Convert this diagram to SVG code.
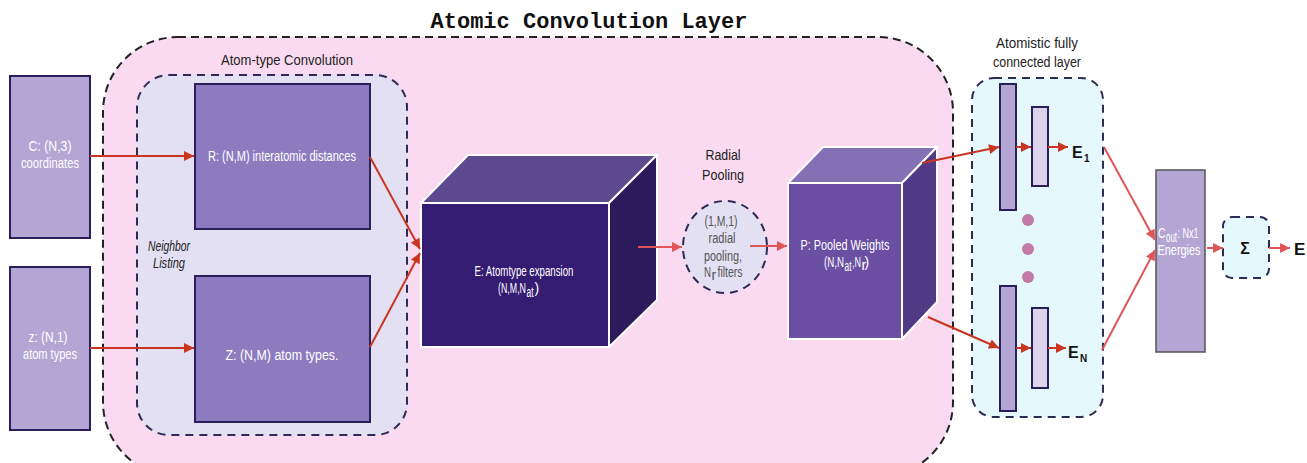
<svg xmlns="http://www.w3.org/2000/svg" width="1307" height="463" viewBox="0 0 1307 463">
<style>
.lbl{font-family:"Liberation Sans",Arial,sans-serif;font-size:14px;fill:#ffffff;text-anchor:middle}
.st{text-anchor:start}
.dark{fill:#222222}
.gray{fill:#555555}
.ital{font-style:italic}
.bold{font-family:"Liberation Sans",Arial,sans-serif;font-weight:bold;fill:#111111}
.node{stroke:#2a1f5a;stroke-width:2}
.cube{stroke:#ffffff;stroke-width:2;stroke-linejoin:round}
.dash{fill:none;stroke:#2d2a55;stroke-width:2;stroke-dasharray:8 6}
.ar{fill:none;stroke:#c9351f;stroke-width:2}
.ar2{fill:none;stroke:#e0555a;stroke-width:2}
</style>
<defs>
<marker id="ah" viewBox="0 0 10 10" refX="10" refY="5" markerWidth="12" markerHeight="10" markerUnits="userSpaceOnUse" orient="auto"><path d="M0,0 L10,5 L0,10 z" fill="#c9351f"/></marker>
<marker id="ah2" viewBox="0 0 10 10" refX="10" refY="5" markerWidth="12" markerHeight="10" markerUnits="userSpaceOnUse" orient="auto"><path d="M0,0 L10,5 L0,10 z" fill="#e0555a"/></marker>
</defs>

<g id="atomic-convolution-layer">
<rect x="103" y="37" width="850" height="440" rx="75" fill="#fadaf0" stroke="#222222" stroke-width="2" stroke-dasharray="8 5"/>
<text x="589" y="28" font-family="Liberation Mono,Courier New,monospace" font-weight="bold" font-size="22" fill="#111111" text-anchor="middle">Atomic Convolution Layer</text>
</g>

<g id="atom-type-convolution">
<rect x="137" y="75" width="270" height="360" rx="32" class="dash" style="fill:#e4e0f3"/>
<text class="lbl dark" x="287" y="65" font-size="15" textLength="132" lengthAdjust="spacingAndGlyphs">Atom-type Convolution</text>
<text class="lbl dark ital" x="169" y="251" font-size="13" textLength="42" lengthAdjust="spacingAndGlyphs">Neighbor</text>
<text class="lbl dark ital" x="169" y="268" font-size="13" textLength="32" lengthAdjust="spacingAndGlyphs">Listing</text>
</g>

<g id="coords">
<rect class="node" x="10" y="76" width="80" height="162" fill="#b3a6d4"/>
<text class="lbl" x="50" y="151" textLength="43" lengthAdjust="spacingAndGlyphs">C: (N,3)</text>
<text class="lbl" x="50" y="168" textLength="58" lengthAdjust="spacingAndGlyphs">coordinates</text>
</g>

<g id="atomtypes-in">
<rect class="node" x="10" y="267" width="80" height="163" fill="#b3a6d4"/>
<text class="lbl" x="48" y="342" textLength="39" lengthAdjust="spacingAndGlyphs">z: (N,1)</text>
<text class="lbl" x="50" y="359" textLength="54" lengthAdjust="spacingAndGlyphs">atom types</text>
</g>

<g id="R">
<rect class="node" x="195" y="84" width="175" height="145" fill="#8c7bbf"/>
<text class="lbl" x="282" y="161" font-size="15" textLength="148" lengthAdjust="spacingAndGlyphs">R: (N,M) interatomic distances</text>
</g>

<g id="Z">
<rect class="node" x="195" y="276" width="175" height="146" fill="#8c7bbf"/>
<text class="lbl" x="282" y="360" font-size="18" textLength="113" lengthAdjust="spacingAndGlyphs">Z: (N,M) atom types.</text>
</g>

<g id="E">
<polygon class="cube" points="421,203 468,155 657,155 609,203" fill="#5e4a8f"/>
<polygon class="cube" points="609,203 657,155 657,300 609,347" fill="#2b1a5c"/>
<rect class="cube" x="421" y="203" width="188" height="144" fill="#341c72"/>
<text class="lbl" x="524" y="276" font-size="15" textLength="99" lengthAdjust="spacingAndGlyphs">E: Atomtype expansion</text>
<text class="lbl st" x="498" y="293" textLength="28" lengthAdjust="spacingAndGlyphs">(N,M,N</text>
<text class="lbl st" x="526.5" y="297" font-size="9" textLength="7" lengthAdjust="spacingAndGlyphs">at</text>
<text class="lbl st" x="534.5" y="293">)</text>
</g>

<g id="radial-pooling">
<text class="lbl dark" x="723" y="160" font-size="15" textLength="35" lengthAdjust="spacingAndGlyphs">Radial</text>
<text class="lbl dark" x="723" y="180" font-size="15" textLength="42" lengthAdjust="spacingAndGlyphs">Pooling</text>
<ellipse cx="725" cy="247" rx="42" ry="46" class="dash" style="fill:#e4e0f3"/>
<text class="lbl gray" x="721" y="226" font-size="13" textLength="33" lengthAdjust="spacingAndGlyphs">(1,M,1)</text>
<text class="lbl gray" x="722" y="243" font-size="13" textLength="27" lengthAdjust="spacingAndGlyphs">radial</text>
<text class="lbl gray" x="723" y="261" font-size="13" textLength="38" lengthAdjust="spacingAndGlyphs">pooling,</text>
<text class="lbl gray st" x="704" y="277" font-size="13" textLength="7" lengthAdjust="spacingAndGlyphs">N</text>
<text class="lbl gray st" x="711.5" y="280" font-size="8">r</text>
<text class="lbl gray st" x="717.5" y="277" font-size="13" textLength="25" lengthAdjust="spacingAndGlyphs">filters</text>
</g>

<g id="P">
<polygon class="cube" points="788,183 823,147 937,147 902,183" fill="#8470b5"/>
<polygon class="cube" points="902,183 937,147 937,302 902,339" fill="#503a86"/>
<rect class="cube" x="788" y="183" width="114" height="156" fill="#6a4fa3"/>
<text class="lbl" x="845" y="250" font-size="15" textLength="89" lengthAdjust="spacingAndGlyphs">P: Pooled Weights</text>
<text class="lbl st" x="824" y="267" font-size="13" textLength="20" lengthAdjust="spacingAndGlyphs">(N,N</text>
<text class="lbl st" x="844.5" y="271" font-size="8" textLength="7" lengthAdjust="spacingAndGlyphs">at</text>
<text class="lbl st" x="852" y="267" font-size="13" textLength="9" lengthAdjust="spacingAndGlyphs">,N</text>
<text class="lbl st" x="861.5" y="270" font-size="8">r</text>
<text class="lbl st" x="864.5" y="267" font-size="13">)</text>
</g>

<g id="fc-layer">
<text class="lbl dark" x="1037" y="48" textLength="82" lengthAdjust="spacingAndGlyphs">Atomistic fully</text>
<text class="lbl dark" x="1037" y="67" textLength="88" lengthAdjust="spacingAndGlyphs">connected layer</text>
<rect x="972" y="78" width="131" height="339" rx="22" class="dash" style="fill:#e5f8fd"/>
<rect class="node" x="1000" y="84" width="16" height="126" fill="#b3a6d4" stroke-width="1.5"/>
<rect class="node" x="1032" y="107" width="16" height="79" fill="#dcd3ec" stroke-width="1.5"/>
<rect class="node" x="1000" y="286" width="16" height="125" fill="#b3a6d4" stroke-width="1.5"/>
<rect class="node" x="1032" y="308" width="16" height="80" fill="#dcd3ec" stroke-width="1.5"/>
<circle cx="1028" cy="220" r="6" fill="#c47aa6"/>
<circle cx="1028" cy="249" r="6" fill="#c47aa6"/>
<circle cx="1028" cy="277" r="6" fill="#c47aa6"/>
<text class="bold" x="1072" y="158" font-size="16">E</text>
<text class="bold" x="1084" y="162" font-size="10">1</text>
<text class="bold" x="1068" y="358" font-size="16">E</text>
<text class="bold" x="1080" y="362" font-size="10">N</text>
</g>

<g id="energies">
<rect x="1156" y="170" width="49" height="182" fill="#b3a6d4" stroke="#555555" stroke-width="1.5"/>
<text class="lbl st" x="1158" y="238" font-size="14" textLength="7.5" lengthAdjust="spacingAndGlyphs">C</text>
<text class="lbl st" x="1166" y="242" font-size="8" textLength="11" lengthAdjust="spacingAndGlyphs">out</text>
<text class="lbl st" x="1177.5" y="238" font-size="14" textLength="21" lengthAdjust="spacingAndGlyphs">: Nx1</text>
<text class="lbl" x="1179" y="255" font-size="14" textLength="43" lengthAdjust="spacingAndGlyphs">Energies</text>
</g>

<g id="sum">
<rect x="1223" y="217" width="46" height="61" rx="9" class="dash" style="fill:#e5f8fd"/>
<text class="bold" x="1245" y="254" font-size="16" text-anchor="middle" fill="#2a3a3a">Σ</text>
</g>

<g id="E-total">
<text class="bold" x="1294" y="255" font-size="17">E</text>
</g>

<g id="connectors">
<line class="ar" x1="90" y1="156" x2="194" y2="156" marker-end="url(#ah)"/>
<line class="ar" x1="90" y1="348" x2="194" y2="348" marker-end="url(#ah)"/>
<line class="ar" x1="370" y1="157" x2="420" y2="249" marker-end="url(#ah)"/>
<line class="ar" x1="370" y1="347" x2="420" y2="253" marker-end="url(#ah)"/>
<line class="ar2" x1="638" y1="247" x2="682" y2="247" marker-end="url(#ah2)"/>
<line class="ar2" x1="750" y1="246" x2="787" y2="246" marker-end="url(#ah2)"/>
<line class="ar" x1="922" y1="163" x2="999" y2="147" marker-end="url(#ah)"/>
<line class="ar" x1="928" y1="317" x2="999" y2="348" marker-end="url(#ah)"/>
<line class="ar" x1="1016" y1="147" x2="1031" y2="147" marker-end="url(#ah)"/>
<line class="ar" x1="1048" y1="147" x2="1068" y2="147" marker-end="url(#ah)"/>
<line class="ar" x1="1016" y1="348" x2="1031" y2="348" marker-end="url(#ah)"/>
<line class="ar" x1="1048" y1="348" x2="1066" y2="348" marker-end="url(#ah)"/>
<line class="ar2" x1="1104" y1="147" x2="1155" y2="240" marker-end="url(#ah2)"/>
<line class="ar2" x1="1102" y1="350" x2="1155" y2="250" marker-end="url(#ah2)"/>
<line class="ar2" x1="1207" y1="248" x2="1223" y2="248" marker-end="url(#ah2)"/>
<line class="ar2" x1="1269" y1="248" x2="1290" y2="248" marker-end="url(#ah2)"/>
</g>
</svg>
